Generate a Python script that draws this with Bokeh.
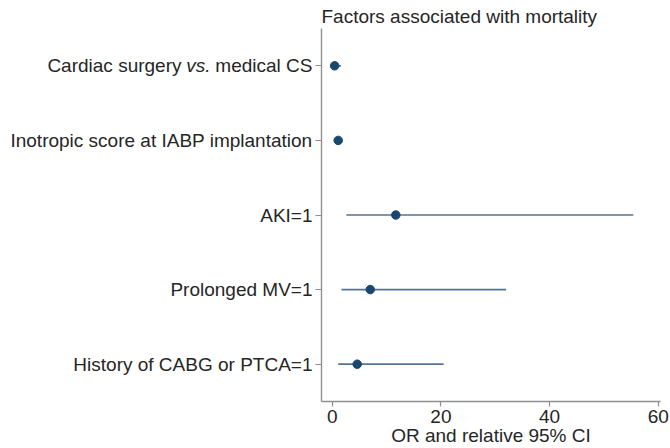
from bokeh.plotting import figure
from bokeh.models import ColumnDataSource, Range1d, FixedTicker, LinearAxis
from bokeh.embed import file_html
from bokeh.resources import INLINE

# ---- data ----
categories = [
    "Cardiac surgery vs. medical CS",
    "Inotropic score at IABP implantation",
    "AKI=1",
    "Prolonged MV=1",
    "History of CABG or PTCA=1",
]
rows = [1, 2, 3, 4, 5]
odds_ratio = [0.45, 1.1, 11.7, 7.0, 4.6]
ci_low = [0.1, 1.0, 2.6, 1.7, 1.1]
ci_high = [1.6, 1.2, 55.4, 32.0, 20.5]
x_ticks = [0, 20, 40, 60]

FONT = "Liberation Sans"
PX = 19
FS = f"{PX}px"
TXT = "#262626"
AX = "#8f8f8f"

x_lo, x_hi = -1.97, 60.4

src = ColumnDataSource(dict(y=rows, orv=odds_ratio, lo=ci_low, hi=ci_high))

p = figure(width=670, height=448, output_backend="svg", toolbar_location=None,
           x_range=Range1d(x_lo, x_hi), y_range=Range1d(5.5, 0.5),
           title="Factors associated with mortality",
           min_border_left=0, min_border_right=10, min_border_top=28,
           min_border_bottom=40)

p.segment(x0="lo", x1="hi", y0="y", y1="y", source=src,
          line_color="#56748e", line_width=1.7)
p.scatter(x="orv", y="y", source=src, size=8.5, marker="circle",
          fill_color="#1a476f", line_color="#1a476f")

p.title.text_font = FONT
p.title.text_font_size = FS
p.title.text_font_style = "normal"
p.title.text_color = TXT
p.title.align = "left"
p.title.vertical_align = "top"
p.title.standoff = 0

p.grid.visible = False
p.outline_line_color = None

xa = p.xaxis[0]
xa.axis_line_color = AX
xa.axis_line_width = 1.4
xa.major_tick_line_color = AX
xa.major_tick_line_width = 1.2
xa.minor_tick_line_color = None
xa.major_tick_in = 0
xa.major_label_text_font = FONT
xa.major_label_text_font_size = FS
xa.major_label_text_color = TXT
xa.ticker = FixedTicker(ticks=x_ticks)
xa.major_tick_out = 5
xa.major_label_standoff = 3
xa.axis_label = "OR and relative 95% CI"
xa.axis_label_text_font = FONT
xa.axis_label_text_font_size = FS
xa.axis_label_text_font_style = "normal"
xa.axis_label_text_color = TXT
xa.axis_label_standoff = -1


def label_axis(ticks, overrides, standoff, style="normal", tick_out=0, line=False):
    return LinearAxis(ticker=FixedTicker(ticks=ticks),
                      major_label_overrides=overrides,
                      axis_line_color=AX if line else None, axis_line_width=1.4,
                      major_tick_line_color=AX if line else None,
                      major_tick_line_width=1.2,
                      minor_tick_line_color=None,
                      major_tick_out=tick_out, major_tick_in=0,
                      major_label_standoff=standoff,
                      major_label_text_font=FONT, major_label_text_font_size=FS,
                      major_label_text_font_style=style,
                      major_label_text_color=TXT)


# widths (Liberation Sans = Arial metrics), in px
w_medical = 5.112 * PX
w_vs = 1.278 * PX
w_cardiac = 7.057 * PX
w_inotropic = 15.896 * PX
E = 3      # extra size bokeh adds per label axis
gap = 2    # standoff giving one word space between the parts

# axis next to the frame: line, ticks, and "medical CS"
a1 = label_axis(rows, {r: ("medical CS" if r == rows[0] else "") for r in rows},
                3, tick_out=6, line=True)
a2 = label_axis([rows[0]], {rows[0]: "vs."}, gap, style="italic")
a3 = label_axis([rows[0]], {rows[0]: "Cardiac surgery"}, gap)
inner = (9 + w_medical + E) + (gap + w_vs + E) + (gap + w_cardiac + E)
s_main = int(round(9 - inner))
main = label_axis(rows[1:], {r: c for r, c in zip(rows[1:], categories[1:])}, s_main)
pad = label_axis([rows[0]], {rows[0]: ""}, 0, tick_out=7)

p.left = [a1, a2, a3, main, pad]

open("out.html", "w").write(file_html(p, INLINE))
